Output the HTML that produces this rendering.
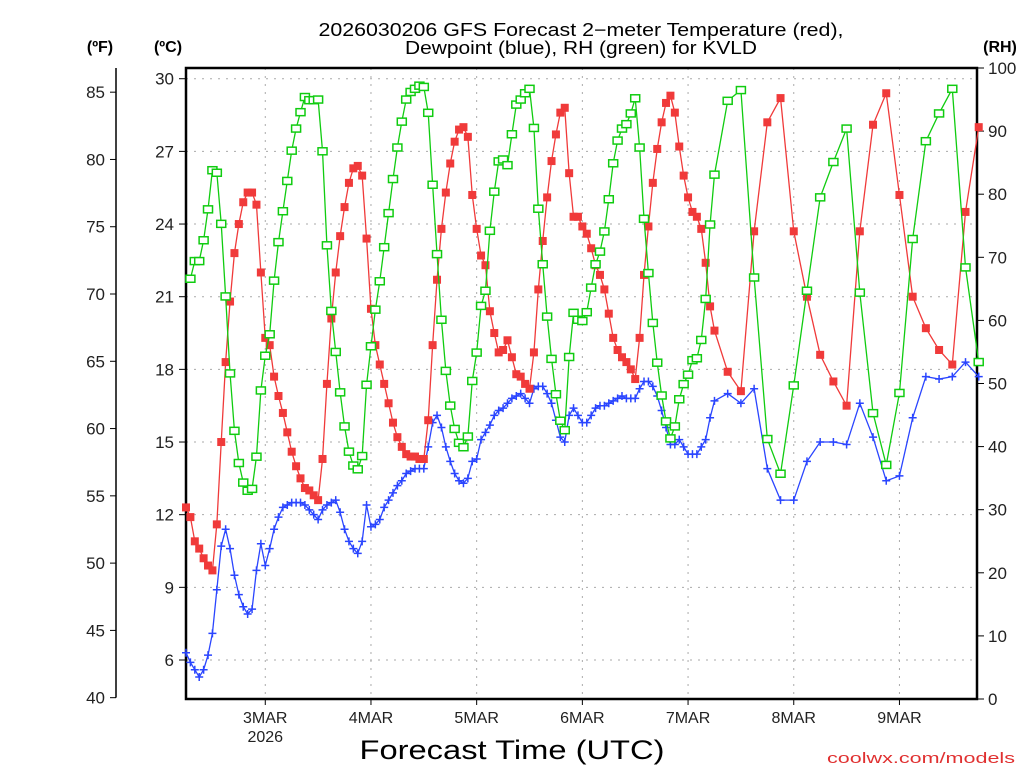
<!DOCTYPE html>
<html><head><meta charset="utf-8"><title>GFS Forecast KVLD</title>
<style>html,body{margin:0;padding:0;background:#fff;}svg{display:block;}text{font-family:"Liberation Sans",sans-serif;}</style>
</head><body>
<svg id="chart" width="1024" height="768" viewBox="0 0 1024 768" xmlns="http://www.w3.org/2000/svg">
<text x="581" y="36" text-anchor="middle" font-size="18" textLength="525" lengthAdjust="spacingAndGlyphs">2026030206 GFS Forecast 2−meter Temperature (red),</text>
<text x="581" y="54" text-anchor="middle" font-size="18" textLength="352" lengthAdjust="spacingAndGlyphs">Dewpoint (blue), RH (green) for KVLD</text>
<text x="100" y="52" text-anchor="middle" font-size="16" font-weight="bold">(ºF)</text>
<text x="168" y="52" text-anchor="middle" font-size="16" font-weight="bold">(ºC)</text>
<text x="1000" y="52" text-anchor="middle" font-size="16" font-weight="bold">(RH)</text>
<text x="512" y="759" text-anchor="middle" font-size="27" textLength="305" lengthAdjust="spacingAndGlyphs">Forecast Time (UTC)</text>
<text x="1015" y="763" text-anchor="end" font-size="15" fill="#e03030" textLength="188" lengthAdjust="spacingAndGlyphs">coolwx.com/models</text>
<g id="grid"></g><g id="axes"></g><g id="series"></g>
</svg>
<script>
// ---- data ----
const dayLabels = ["3MAR","4MAR","5MAR","6MAR","7MAR","8MAR","9MAR"];
const celsiusTicks = [6,9,12,15,18,21,24,27,30];
const fahrenheitTicks = [40,45,50,55,60,65,70,75,80,85];
const rhTicks = [0,10,20,30,40,50,60,70,80,90,100];
const tempC = [12.3,11.9,10.9,10.6,10.2,9.9,9.7,11.6,15.0,18.3,20.8,22.8,24.0,24.9,25.3,25.3,24.8,22.0,19.3,19.0,17.7,16.9,16.2,15.4,14.6,14.0,13.5,13.1,13.0,12.8,12.6,14.3,17.4,20.1,22.0,23.5,24.7,25.7,26.3,26.4,26.0,23.4,20.5,19.0,18.2,17.4,16.6,15.8,
15.2,14.8,14.5,14.4,14.4,14.3,14.3,15.9,19.0,21.7,23.8,25.3,26.5,27.4,27.9,28.0,27.6,25.2,23.8,22.7,22.3,20.4,19.5,18.7,18.8,19.2,18.5,17.8,17.7,17.4,17.2,18.7,21.3,23.3,25.1,26.6,27.7,28.6,28.8,26.1,24.3,24.3,23.9,23.6,23.0,22.3,
21.9,21.3,20.3,19.3,18.8,18.5,18.3,18.0,17.6,19.3,21.9,23.9,25.7,27.1,28.2,29.0,29.3,28.6,27.2,26.0,25.1,24.5,24.3,23.8,22.4,20.6,19.6,
17.9,17.1,23.7,28.2,29.2,23.7,21.0,18.6,17.5,16.5,23.7,28.1,29.4,25.2,21.0,19.7,18.8,18.2,24.5,28.0];
const dewpointC = [6.3,5.9,5.6,5.3,5.6,6.2,7.1,8.9,10.7,11.4,10.6,9.5,8.7,8.2,7.9,8.1,9.7,10.8,9.9,10.6,11.4,11.9,12.3,12.4,12.5,12.5,12.5,12.4,12.2,12.0,11.8,12.2,12.4,12.5,12.6,12.1,11.4,10.9,10.6,10.4,10.9,12.4,11.5,11.6,11.8,12.3,12.6,
12.9,13.2,13.4,13.7,13.8,13.9,13.9,13.9,14.8,15.8,16.1,15.6,14.8,14.2,13.7,13.4,13.3,13.5,14.2,14.3,15.1,15.4,15.7,16.1,16.3,16.4,16.6,16.8,16.9,17.0,16.8,16.6,17.2,17.3,17.3,17.0,16.6,15.9,15.2,15.0,16.1,16.4,16.1,15.8,15.8,16.1,16.4,
16.5,16.5,16.6,16.7,16.8,16.9,16.8,16.8,16.8,17.2,17.5,17.5,17.3,16.9,16.3,15.6,14.9,14.9,15.1,14.8,14.5,14.5,14.5,14.8,15.1,16.0,16.7,
17.0,16.6,17.2,13.9,12.6,12.6,14.2,15.0,15.0,14.9,16.6,15.2,13.4,13.6,16.0,17.7,17.6,17.7,18.3,17.7];
const relHum = [null,66.6,69.4,69.4,72.7,77.6,83.8,83.4,75.3,63.8,51.6,42.5,37.4,34.3,33.0,33.3,38.4,48.9,54.4,57.8,66.3,72.4,77.3,82.1,86.9,90.4,93.0,95.4,94.9,94.9,95.0,86.8,71.9,61.5,55.0,48.6,43.2,39.2,37.0,36.4,38.5,49.8,55.9,61.7,66.2,71.6,77.0,82.4,
87.4,91.5,95.0,96.2,96.7,97.2,97.0,92.9,81.5,70.5,60.1,52.0,46.5,42.8,40.6,39.9,41.6,50.4,54.9,62.3,64.7,74.2,80.4,85.2,85.5,84.6,89.5,94.2,95.0,96.0,96.7,90.5,77.7,68.9,60.6,53.9,48.3,44.1,42.6,54.2,61.2,60.1,59.9,61.3,65.2,68.9,
70.9,74.1,79.2,84.9,88.5,90.4,91.1,92.8,95.2,87.4,76.1,67.5,59.6,53.3,48.1,44.0,41.3,43.2,47.5,49.9,51.4,53.7,54.0,56.9,63.4,75.2,83.1,
94.8,96.5,66.8,41.2,35.7,49.7,64.7,79.5,85.1,90.4,64.4,45.3,37.1,48.5,72.9,88.4,92.8,96.7,68.4,53.4];
// forecast hour of each point (hourly to 120h, then 3-hourly)
const forecastHours = [];
for (let h = 0; h <= 120; h++) forecastHours.push(h);
for (let h = 123; h <= 180; h += 3) forecastHours.push(h);

// ---- scales ----
const L = 186, R = 977, T = 68, B = 699;
const xH = h => L + h * 4.404;
const yC = c => 660 - (c - 6) * 24.22;
const yF = f => yC((f - 32) * 5 / 9);
const yRH = r => B - r * (B - T) / 100;
const NS = "http://www.w3.org/2000/svg";
function mk(tag, attrs, parent) { const e = document.createElementNS(NS, tag); for (const k in attrs) e.setAttribute(k, attrs[k]); parent.appendChild(e); return e; }

const grid = document.getElementById('grid'), axes = document.getElementById('axes'), series = document.getElementById('series');
// horizontal grid + celsius ticks
celsiusTicks.forEach(c => {
  const y = yC(c);
  const g = mk('line', {x1:L, x2:R, y1:y, y2:y, stroke:'#aaa', 'stroke-width':1, 'stroke-dasharray':'2,6'}, grid);
  
  
  mk('line', {x1:L-7, x2:L, y1:y, y2:y, stroke:'#000', 'stroke-width':1}, axes);
  const t = mk('text', {x:L-12, y:y+6, 'text-anchor':'end', 'font-size':17, fill:'#222'}, axes);
  t.textContent = c;
  
  
});
// vertical day grid + labels
dayLabels.forEach((d, i) => {
  const x = xH(18 + 24 * i);
  const g = mk('line', {x1:x, x2:x, y1:T, y2:B, stroke:'#aaa', 'stroke-width':1, 'stroke-dasharray':'2,6'}, grid);
  
  
  mk('line', {x1:x, x2:x, y1:B, y2:B+6, stroke:'#000', 'stroke-width':1}, axes);
  const t = mk('text', {x:x, y:B+24, 'text-anchor':'middle', 'font-size':16, fill:'#222'}, axes);
  t.textContent = d;
  
  
});
const yr = mk('text', {x:xH(18), y:B+43, 'text-anchor':'middle', 'font-size':16, fill:'#222'}, axes);
yr.textContent = '2026';


// fahrenheit axis
const fa = mk('line', {x1:116, x2:116, y1:T, y2:yF(40), stroke:'#000', 'stroke-width':1.5}, axes);


fahrenheitTicks.forEach(f => {
  const y = yF(f);
  mk('line', {x1:110, x2:116, y1:y, y2:y, stroke:'#000', 'stroke-width':1}, axes);
  const t = mk('text', {x:105, y:y+6, 'text-anchor':'end', 'font-size':17, fill:'#222'}, axes);
  t.textContent = f;
  
  
});
// rh axis
rhTicks.forEach(r => {
  const y = yRH(r);
  mk('line', {x1:R, x2:R+7, y1:y, y2:y, stroke:'#000', 'stroke-width':1}, axes);
  const t = mk('text', {x:988, y:y+6, 'text-anchor':'start', 'font-size':17, fill:'#222'}, axes);
  t.textContent = r;
  
  
});
// plot frame
const fr = mk('path', {d:`M${L},${T} H${R} V${B} H${L} Z`, fill:'none', stroke:'#000', 'stroke-width':2.5}, axes);



function drawSeries(vals, yf, color, name, marker) {
  const pts = [];
  vals.forEach((v, i) => { if (v !== null) pts.push([xH(forecastHours[i]), yf(v)]); });
  const ln = mk('polyline', {points: pts.map(p => p.join(',')).join(' '), fill:'none', stroke:color, 'stroke-width':1.3}, series);
  
  
  const g = mk('g', {}, series);
  
  
  pts.forEach(([x, y]) => {
    let m;
    if (marker === 'filled') m = mk('rect', {x:x-4, y:y-4, width:8, height:8, fill:color}, g);
    else if (marker === 'hollow') m = mk('rect', {x:x-4.5, y:y-3.5, width:9, height:7, fill:'#fff', stroke:color, 'stroke-width':1.5}, g);
    else m = mk('path', {d:`M${x-4},${y}H${x+4}M${x},${y-4}V${y+4}`, stroke:color, 'stroke-width':1.5}, g);
    
    
  });
}
drawSeries(dewpointC, yC, '#2a45ff', 'dewpoint', 'plus');
drawSeries(tempC, yC, '#f03a3a', 'temperature', 'filled');
drawSeries(relHum, yRH, '#10cc10', 'relative-humidity', 'hollow');
</script>
</body></html>
